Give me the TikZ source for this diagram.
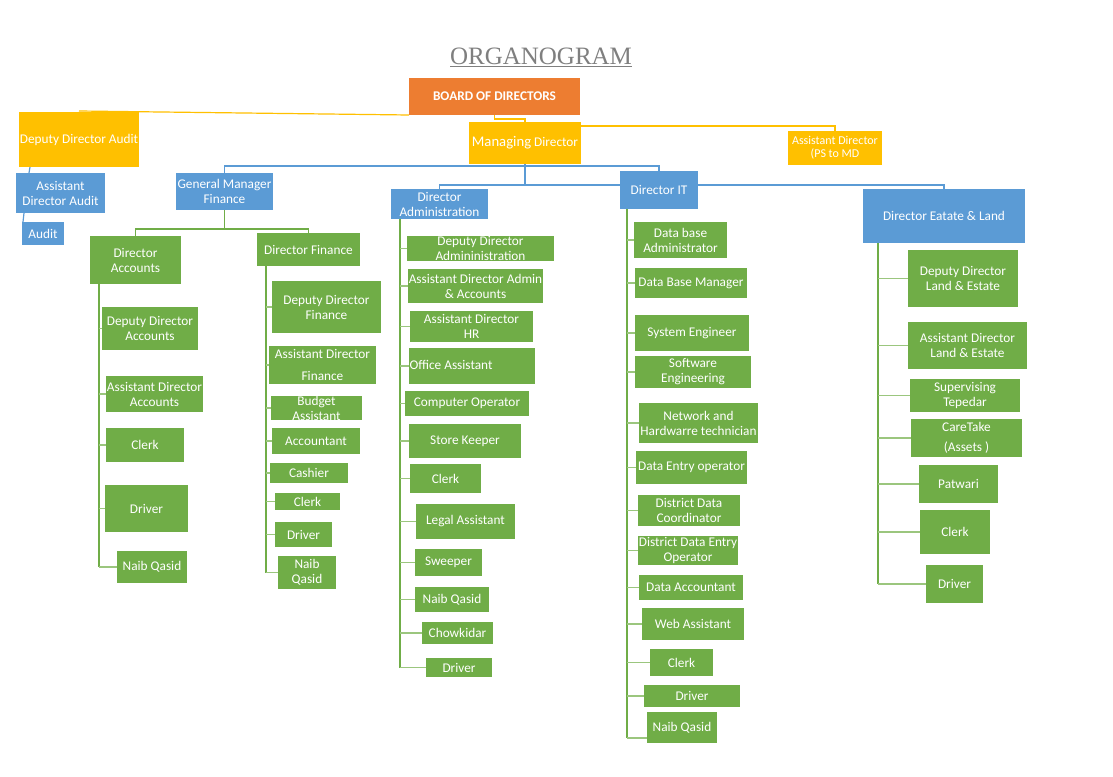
\documentclass[tikz,border=0pt]{standalone}
\usepackage{fontspec}
\setmainfont{Carlito}
\newfontfamily\ttlfont{Liberation Serif}
\usetikzlibrary{backgrounds}
\definecolor{ogreen}{HTML}{70AD47}
\definecolor{oblue}{HTML}{5B9BD5}
\definecolor{oyel}{HTML}{FFC000}
\definecolor{oorg}{HTML}{ED7D31}
\definecolor{ttlgray}{HTML}{7F7F7F}
\tikzset{
 box/.style={inner sep=0pt, outer sep=0pt, anchor=north west, draw=none},
 gbox/.style={box, fill=ogreen},
 bbox/.style={box, fill=oblue},
 ybox/.style={box, fill=oyel},
 obox/.style={box, fill=oorg},
 txt/.style={text=white, align=center, inner sep=0pt, font=\fontsize{13.3}{15}\selectfont},
 gline/.style={draw=ogreen, line width=1.2pt},
 gtick/.style={draw=ogreen!70!white, line width=1.2pt},
 bline/.style={draw=oblue, line width=1.2pt},
 yline/.style={draw=oyel, line width=1.2pt},
}
\newcommand{\bx}[8]{%
 \node[#6, minimum width={#4-#2}, minimum height={#5-#3}] (#1) at (#2,#3) {};
 \node[txt, #7] at (#1.center) {#8};}
\begin{document}
\begin{tikzpicture}[x=1pt,y=-1pt]
\useasboundingbox (0,0) rectangle (1113,776);
\node[text=ttlgray, font=\ttlfont\fontsize{25}{28}\selectfont, inner sep=0pt, anchor=base] (title) at (541,65) {\underline{ORGANOGRAM}};
% top level
\bx{board}{409}{78}{580}{115}{obox}{font=\fontsize{13.3}{15}\selectfont\bfseries}{BOARD OF DIRECTORS}
\bx{md}{469}{122}{581}{164}{ybox}{}{{\fontsize{14.7}{16}\selectfont Managing} Director}
\bx{dda}{19}{112}{139}{167}{ybox}{}{Deputy Director Audit}
\bx{ps}{788}{131}{882}{165}{ybox}{font=\fontsize{12}{13}\selectfont}{Assistant Director\\(PS to MD}
\bx{ada}{16}{173}{105}{213}{bbox}{}{Assistant\\Director Audit}
\bx{aud}{22}{222}{64}{245}{bbox}{}{Audit}
\bx{gmf}{176}{173}{273}{210}{bbox}{}{General Manager\\Finance}
\bx{adm}{391}{189}{488}{219}{bbox}{}{Director\\Administration}
\bx{it}{620}{171}{698}{209}{bbox}{}{Director IT}
\bx{el}{863}{189}{1025}{243}{bbox}{}{Director Eatate \& Land}
% Director Accounts
\bx{a0}{90}{236}{181}{284}{gbox}{}{Director\\Accounts}
\bx{a1}{102}{307}{198}{350}{gbox}{}{Deputy Director\\Accounts}
\bx{a2}{106}{376}{203}{412}{gbox}{}{Assistant Director\\Accounts}
\bx{a3}{106}{428}{184}{462}{gbox}{}{Clerk}
\bx{a4}{105}{485}{188}{532}{gbox}{}{Driver}
\bx{a5}{117}{551}{187}{583}{gbox}{}{Naib Qasid}
% Director Finance
\bx{f0}{257}{233}{360}{266}{gbox}{}{Director Finance}
\bx{f1}{272}{281}{381}{333}{gbox}{}{Deputy Director\\Finance}
\bx{f2}{269}{346}{376}{384}{gbox}{}{Assistant Director\\[7pt]Finance}
\bx{f3}{271}{396}{362}{420}{gbox}{}{Budget\\Assistant}
\bx{f4}{272}{428}{360}{454}{gbox}{}{Accountant}
\bx{f5}{270}{463}{348}{483}{gbox}{}{Cashier}
\bx{f6}{275}{493}{340}{510}{gbox}{}{Clerk}
\bx{f7}{275}{522}{332}{547}{gbox}{}{Driver}
\bx{f8}{278}{556}{336}{589}{gbox}{}{Naib\\Qasid}
% Director Administration
\bx{d1}{407}{236}{554}{261}{gbox}{}{Deputy Director\\Admininistration}
\bx{d2}{408}{269}{543}{303}{gbox}{}{Assistant Director Admin\\\& Accounts}
\bx{d3}{410}{311}{533}{342}{gbox}{}{Assistant Director\\HR}
\bx{d4}{409}{348}{535}{384}{gbox}{xshift=-21pt, yshift=1pt}{Office Assistant}
\bx{d5}{405}{391}{529}{416}{gbox}{}{Computer Operator}
\bx{d6}{409}{424}{521}{458}{gbox}{}{Store Keeper}
\bx{d7}{410}{464}{481}{493}{gbox}{}{Clerk}
\bx{d8}{416}{504}{515}{539}{gbox}{}{Legal Assistant}
\bx{d9}{415}{549}{482}{576}{gbox}{}{Sweeper}
\bx{d10}{415}{587}{489}{612}{gbox}{}{Naib Qasid}
\bx{d11}{422}{622}{493}{644}{gbox}{}{Chowkidar}
\bx{d12}{426}{658}{492}{677}{gbox}{}{Driver}
% Director IT
\bx{t1}{634}{222}{727}{258}{gbox}{}{Data base\\Administrator}
\bx{t2}{635}{268}{747}{298}{gbox}{}{Data Base Manager}
\bx{t3}{635}{315}{749}{351}{gbox}{}{System Engineer}
\bx{t4}{635}{356}{751}{388}{gbox}{}{Software\\Engineering}
\bx{t5}{639}{403}{758}{443}{gbox}{}{Network and\\Hardwarre technician}
\bx{t6}{636}{451}{747}{484}{gbox}{}{Data Entry operator}
\bx{t7}{638}{495}{740}{526}{gbox}{}{District Data\\Coordinator}
\bx{t8}{638}{536}{738}{565}{gbox}{}{District Data Entry\\Operator}
\bx{t9}{639}{575}{743}{600}{gbox}{}{Data Accountant}
\bx{t10}{642}{608}{744}{640}{gbox}{}{Web Assistant}
\bx{t11}{650}{649}{713}{676}{gbox}{}{Clerk}
\bx{t12}{644}{685}{740}{707}{gbox}{}{Driver}
\bx{t13}{647}{712}{717}{743}{gbox}{}{Naib Qasid}
% Director Estate
\bx{e1}{908}{250}{1018}{307}{gbox}{}{Deputy Director\\Land \& Estate}
\bx{e2}{908}{322}{1027}{369}{gbox}{}{Assistant Director\\Land \& Estate}
\bx{e3}{910}{379}{1020}{412}{gbox}{}{Supervising\\Tepedar}
\bx{e4}{911}{419}{1022}{457}{gbox}{}{CareTake\\[5pt](Assets )}
\bx{e5}{919}{465}{998}{503}{gbox}{}{Patwari}
\bx{e6}{920}{510}{990}{554}{gbox}{}{Clerk}
\bx{e7}{926}{565}{983}{603}{gbox}{}{Driver}
% connectors
\begin{pgfonlayer}{background}
\fill[white] (0,0) rectangle (1113,776);
\coordinate (yA) at (0,166);
\coordinate (yB) at (0,185);
\coordinate (yC) at (0,229);
\draw[yline] (board.south west) -- ([yshift=1pt]dda.north);
\draw[yline] (board.south) -- ++(0,4) -| (md.north);
\draw[yline] ([yshift=-4pt]md.north east) -| (ps.north);
\draw[bline] (gmf.north) |- (it.north |- yA) -- (it.north);
\draw[bline] (md.south) -- (md.south |- yB);
\draw[bline] (adm.north) |- (el.north |- yB) -- (el.north);
\draw[bline] ([xshift=11pt]dda.south west) -- ([xshift=13pt]ada.north west);
\draw[bline] ([xshift=8pt]ada.south west) -- ([xshift=1pt]aud.north west);
\draw[gline] (gmf.south) |- (a0.north |- yC) -- (a0.north);
\draw[gline] (gmf.south |- yC) -| (f0.north);
% column verticals
\coordinate (va) at ([xshift=9pt]a0.south west);
\coordinate (vf) at ([xshift=9pt]f0.south west);
\coordinate (vd) at ([xshift=9pt]adm.south west);
\coordinate (vt) at ([xshift=7pt]it.south west);
\coordinate (ve) at ([xshift=15pt]el.south west);
\coordinate (t13t) at ([yshift=5pt]t13.south west);
\draw[gline] (va) -- (va |- a5.west);
\draw[gline] (vf) -- (vf |- f8.west);
\draw[gline] (vd) -- (vd |- d12.west);
\draw[gline] (vt) -- (vt |- t13t);
\draw[gline] (ve) -- (ve |- e7.west);
\foreach \c in {a1,a2,a3,a4,a5} \draw[gtick] (va |- \c.west) -- (\c.west);
\foreach \c in {f1,f2,f3,f4,f5,f6,f7,f8} \draw[gtick] (vf |- \c.west) -- (\c.west);
\foreach \c in {d1,d2,d3,d4,d5,d6,d7,d8,d9,d10,d11,d12} \draw[gtick] (vd |- \c.west) -- (\c.west);
\foreach \c in {t1,t2,t3,t4,t5,t6,t7,t8,t9,t10,t11,t12} \draw[gtick] (vt |- \c.west) -- (\c.west);
\draw[gtick] (vt |- t13t) -- (t13t);
\foreach \c in {e1,e2,e3,e4,e5,e6,e7} \draw[gtick] (ve |- \c.west) -- (\c.west);
\end{pgfonlayer}
\end{tikzpicture}
\end{document}
